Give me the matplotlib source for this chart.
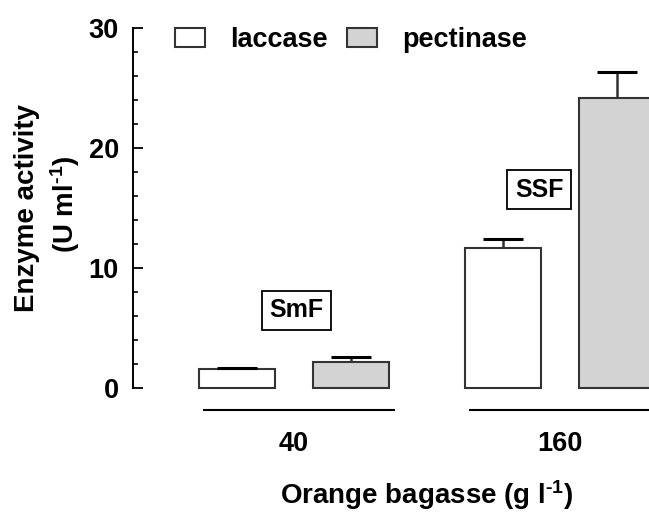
import matplotlib
matplotlib.use("Agg")
import matplotlib.pyplot as plt
import numpy as np
from matplotlib.patches import Patch

plt.rcParams['font.family'] = ['Liberation Sans', 'DejaVu Sans']
plt.rcParams['font.weight'] = 'bold'
plt.rcParams['mathtext.fontset'] = 'custom'
plt.rcParams['mathtext.bf'] = 'Liberation Sans:bold'
plt.rcParams['mathtext.rm'] = 'Liberation Sans:bold'
plt.rcParams['mathtext.default'] = 'bf'

# данные
groups = ['40', '160']
series = ['laccase', 'pectinase']
laccase = [1.6, 11.7]
laccase_err = [0.13, 0.72]
pectinase = [2.15, 24.1]
pectinase_err = [0.45, 2.2]
modes = ['SmF', 'SSF']
mode_y = [6.5, 16.5]

edge = '#333333'
fills = ['white', '#d3d3d3']

fig = plt.figure(figsize=(6.49, 5.12), dpi=100)
ax = fig.add_axes([132.7 / 649, 1 - 410 / 512, 1 - 132.7 / 649, (410 - 27.5) / 512])

x = np.arange(len(groups))
w = 0.287
off = 0.214
for vals, errs, fc, sign in [(laccase, laccase_err, fills[0], -1),
                             (pectinase, pectinase_err, fills[1], 1)]:
    xs = x + sign * off
    ax.bar(xs, vals, width=w, color=fc, edgecolor=edge, linewidth=1.5, zorder=2)
    top = np.array(vals) + np.array(errs)
    ax.vlines(xs, vals, top, color=edge, linewidth=1.8, zorder=3)
    ax.hlines(top, xs - 0.075, xs + 0.075, color='black', linewidth=2.2, zorder=3)

# линии под группами
for xi in x:
    ax.plot([xi - 0.342, xi + 0.38], [-1.8, -1.8], color='black', lw=1.5,
            clip_on=False, solid_capstyle='butt')

# подписи SmF / SSF
mode_x = [0.01, 0.922]
for xm, ym, t in zip(mode_x, mode_y, modes):
    ax.text(xm, ym, t, ha='center', va='center', fontsize=18,
            bbox=dict(boxstyle='square,pad=0.3', fc='white', ec='black', lw=1.3))

ax.set_xlim(-0.606, 1.335)
ax.set_ylim(-1.8, 30)
for s in ['top', 'right', 'bottom']:
    ax.spines[s].set_visible(False)
ax.spines['left'].set_bounds(0, 30)
ax.spines['left'].set_linewidth(1.4)
ax.set_yticks([0, 10, 20, 30])
ax.set_yticks(np.arange(0, 31, 2), minor=True)
ax.tick_params(axis='y', which='major', direction='in', length=7, width=1.3,
               labelsize=19.5, pad=10)
ax.tick_params(axis='y', which='minor', direction='in', length=3.8, width=1.2)
ax.set_xticks(x)
ax.set_xticklabels(groups, fontsize=19.5)
ax.tick_params(axis='x', length=0, pad=15)

handles = [Patch(fc=fills[0], ec=edge, lw=1.5), Patch(fc=fills[1], ec=edge, lw=1.5)]
fig.legend(handles, series, loc='upper left', bbox_to_anchor=(175 / 649, 1 - 27 / 512),
           ncol=2, frameon=False, fontsize=19.5, borderpad=0, borderaxespad=0,
           handlelength=1.1, handleheight=0.68, handletextpad=0.95, columnspacing=0.7)

fig.text(27 / 649, 1 - 208 / 512, 'Enzyme activity', rotation=90, ha='center',
         va='center', fontsize=20)
fig.text(65 / 649, 1 - 204 / 512, r'(U ml$^{\text{-}1}$)', rotation=90, ha='center',
         va='center', fontsize=20)
fig.text(427 / 649, 1 - 495 / 512, r'Orange bagasse (g l$^{\text{-}1}$)', ha='center',
         va='center', fontsize=20)

fig.savefig('out.png', dpi=100)
